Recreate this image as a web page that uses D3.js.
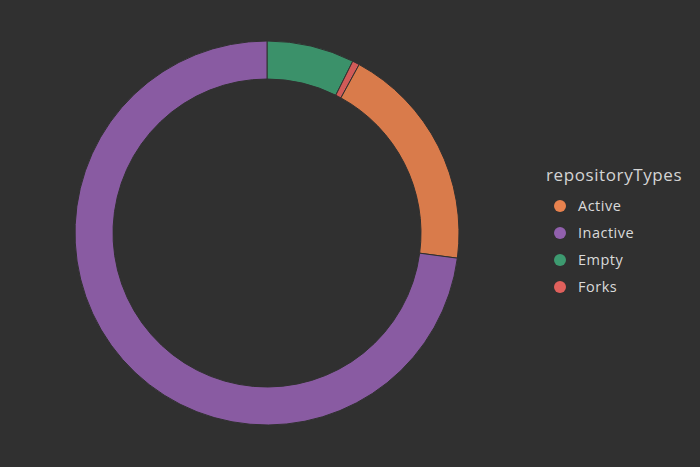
<!DOCTYPE html>
<html>
<head>
<meta charset="utf-8">
<script src="https://cdn.jsdelivr.net/npm/d3@7"></script>
<style>
  html, body { margin: 0; padding: 0; background: #303030; }
  svg { display: block; }
</style>
</head>
<body>
<svg id="chart" width="700" height="467"></svg>
<script>
// slice order (clockwise from the top)
const categories = ["Empty", "Forks", "Active", "Inactive"];
const counts = [37, 3, 96, 366];

// legend order
const legendTitle = "repositoryTypes";
const legendItems = ["Active", "Inactive", "Empty", "Forks"];

const colors = {
  Active: "#e8824e",
  Inactive: "#9160ad",
  Empty: "#3d9a70",
  Forks: "#e0605c"
};

const svg = d3.select("#chart");
const cx = 267, cy = 233;
const outerR = 192, innerR = 154;

const g = svg.append("g").attr("transform", `translate(${cx},${cy})`);

const pie = d3.pie().sort(null).value((d) => d.value);
const arcs = pie(categories.map((c, i) => ({ key: c, value: counts[i] })));

const arcGenerator = d3.arc().innerRadius(innerR).outerRadius(outerR);

g.selectAll("path")
  .data(arcs)
  .enter()
  .append("path")
  .attr("d", arcGenerator)
  .attr("fill", (d) => colors[d.data.key])
  .attr("fill-opacity", 0.92)
  .attr("stroke", "#303030")
  .attr("stroke-width", 1);

// legend
const legend = svg.append("g").attr("transform", "translate(546,0)");

legend.append("text")
  .attr("x", 0)
  .attr("y", 181)
  .attr("fill", "#d4d4d4")
  .style("font-family", "'Open Sans', 'Noto Sans', sans-serif")
  .style("font-size", "17px")
  .style("letter-spacing", "0.6px")
  .text(legendTitle);

const rows = legend.selectAll("g.row")
  .data(legendItems)
  .enter()
  .append("g")
  .attr("class", "row")
  .attr("transform", (d, i) => `translate(0,${206 + i * 27})`);

rows.append("circle")
  .attr("cx", 14)
  .attr("cy", 0)
  .attr("r", 6)
  .attr("fill", (d) => colors[d]);

rows.append("text")
  .attr("x", 32)
  .attr("y", 5)
  .attr("fill", "#dadada")
  .style("font-family", "'Open Sans', 'Noto Sans', sans-serif")
  .style("font-size", "14.5px")
  .style("letter-spacing", "0.5px")
  .text((d) => d);
</script>
</body>
</html>
